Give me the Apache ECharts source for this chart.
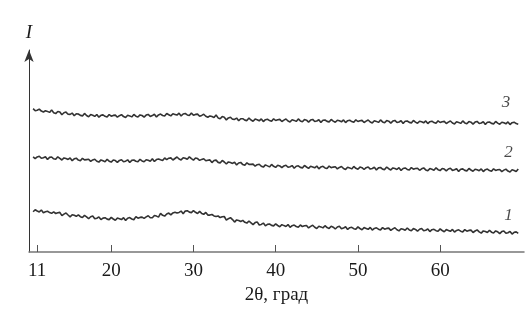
<!DOCTYPE html>
<html><head><meta charset="utf-8">
<script src="https://cdn.jsdelivr.net/npm/echarts@6/dist/echarts.min.js"></script>
<style>html,body{margin:0;padding:0;background:#fff}#c{width:527px;height:332px}</style>
</head><body><div id="c"></div>
<script>
// 2θ sampling grid of the diffractograms (start, step in degrees)
const thetaStart = 10.5, thetaStep = 0.25;
const xTicks = [11, 20, 30, 40, 50, 60];
const curveNames = ['1', '2', '3'];
const labelTheta = [68.3, 68.3, 68.0];
const labelIntensity = [36, 99, 149];

const curve3 = [143.4,141.3,
141.8,142.9,140.9,140.0, 141.2,140.6,139.6,142.1, 139.2,138.4,140.5,139.9, 137.2,139.2,139.9,137.8,
137.6,138.9,136.2,138.3, 138.0,136.6,136.1,138.6, 136.5,135.3,137.4,136.8, 135.6,137.5,134.8,136.7,
137.1,135.7,135.0,137.5, 135.8,136.6,136.9,134.8, 136.3,137.4,135.4,134.5, 136.7,136.1,135.1,137.6,
135.8,135.0,137.1,136.5, 134.9,136.9,137.6,135.5, 136.4,137.7,135.0,137.1, 137.9,136.5,136.0,138.5,
137.3,136.1,138.2,137.6, 136.9,138.8,136.1,138.0, 138.5,137.1,136.4,138.9, 136.8,137.6,137.9,135.8,
136.6,137.7,135.7,134.8, 136.1,135.5,134.5,137.0, 134.1,133.3,135.4,134.8, 132.1,134.1,134.8,132.7,
132.6,133.9,131.2,133.3, 133.3,131.9,131.4,133.9, 132.0,130.8,132.9,132.3, 131.2,133.1,130.4,132.3,
132.8,131.4,130.7,133.2, 131.5,132.3,132.6,130.5, 131.9,133.0,131.0,130.1, 132.2,131.6,130.6,133.1,
131.1,130.3,132.4,131.8, 129.9,131.9,132.6,130.5, 131.0,132.3,129.6,131.7, 132.0,130.6,130.1,132.6,
130.9,129.7,131.8,131.2, 130.2,132.1,129.4,131.3, 131.8,130.4,129.7,132.2, 130.5,131.3,131.6,129.5,
130.9,132.0,130.0,129.1, 131.2,130.6,129.6,132.1, 130.1,129.3,131.4,130.8, 128.9,130.9,131.6,129.5,
130.0,131.3,128.6,130.7, 131.0,129.6,129.1,131.6, 129.9,128.7,130.8,130.2, 129.2,131.1,128.4,130.3,
130.8,129.4,128.7,131.2, 129.5,130.3,130.6,128.5, 129.9,131.0,129.0,128.1, 130.2,129.6,128.6,131.1,
129.1,128.3,130.4,129.8, 127.9,129.9,130.6,128.5, 129.0,130.3,127.6,129.7, 130.0,128.6,128.1,130.6,
128.9,127.7,129.8,129.2, 128.2,130.1,127.4,129.3, 129.8,128.4,127.7];

const curve2 = [95.2,93.4,
95.1,95.8,93.7,94.3, 95.2,92.5,94.6,95.0, 93.2,92.7,95.2,93.6, 92.0,94.1,93.5,92.6,
94.0,91.3,93.2,93.8, 91.9,91.2,93.7,92.1, 92.4,92.7,90.6,92.1, 92.8,90.8,89.9,92.1,
91.2,90.2,92.7,90.8, 89.9,92.0,91.4,89.6, 91.6,92.3,90.2,90.8, 92.2,89.5,91.6,92.0,
90.7,90.2,92.7,91.1, 90.2,92.3,91.7,90.8, 93.2,90.5,92.4,93.0, 92.2,91.5,94.0,92.4,
93.8,94.1,92.0,93.5, 95.0,93.0,92.1,94.3, 93.7,92.7,95.2,93.3, 91.9,94.0,93.4,91.6,
92.6,93.3,91.2,91.8, 92.1,89.4,91.5,91.9, 89.6,89.1,91.6,90.0, 88.0,90.1,89.5,88.6,
89.8,87.1,89.0,89.6, 87.4,86.7,89.2,87.6, 87.6,87.9,85.8,87.3, 87.8,85.8,84.9,87.1,
86.1,85.1,87.6,85.7, 84.6,86.7,86.1,84.3, 86.1,86.8,84.7,85.3, 86.4,83.7,85.8,86.2,
84.6,84.1,86.6,85.0, 83.6,85.7,85.1,84.2, 85.9,83.2,85.1,85.7, 84.1,83.4,85.9,84.3,
84.9,85.2,83.1,84.6, 85.5,83.5,82.6,84.8, 84.1,83.1,85.6,83.7, 82.8,84.9,84.3,82.5,
84.3,85.0,82.9,83.5, 84.7,82.0,84.1,84.5, 82.9,82.4,84.9,83.3, 82.0,84.1,83.5,82.6,
84.3,81.6,83.5,84.1, 82.6,81.9,84.4,82.8, 83.5,83.8,81.7,83.2, 84.1,82.1,81.2,83.4,
82.7,81.7,84.2,82.3, 81.4,83.5,82.9,81.1, 83.0,83.7,81.6,82.2, 83.3,80.6,82.7,83.1,
81.6,81.1,83.6,82.0, 80.7,82.8,82.2,81.3, 83.1,80.4,82.3,82.9, 81.4,80.7,83.2,81.6,
82.2,82.5,80.4,81.9, 82.9,80.9,80.0,82.2, 81.5,80.5,83.0];

const curve1 = [40.2,42.3,
41.0,40.1,42.0,39.3, 40.2,40.8,39.4,38.7, 40.1,38.5,39.3,39.6, 36.4,37.9,39.0,37.0,
35.1,37.3,36.7,35.7, 37.2,35.3,34.5,36.6, 35.1,33.3,35.3,36.0, 33.2,33.8,35.1,32.4,
33.9,34.3,32.9,32.4, 34.6,33.0,31.8,33.9, 33.3,32.4,34.3,31.6, 33.8,34.4,33.0,32.3,
35.4,33.8,34.6,34.9, 33.6,35.1,36.2,34.2, 34.3,36.5,35.9,34.9, 38.6,36.7,35.9,38.0,
38.9,37.1,39.1,39.8, 39.0,39.6,40.9,38.2, 40.9,41.3,39.9,39.4, 41.3,39.7,38.5,40.6,
38.6,37.7,39.6,36.9, 36.9,37.5,36.1,35.4, 36.0,34.4,35.2,35.5, 31.8,33.3,34.4,32.4,
29.9,32.1,31.5,30.5, 31.6,29.7,28.9,31.0, 29.2,27.4,29.4,30.1, 27.0,27.6,28.9,26.2,
27.6,28.0,26.6,26.1, 28.1,26.5,25.3,27.4, 26.4,25.5,27.4,24.7, 26.3,26.9,25.5,24.8,
27.0,25.4,26.2,26.5, 24.1,25.6,26.7,24.7, 23.5,25.7,25.1,24.1, 26.3,24.4,23.6,25.7,
24.8,23.0,25.0,25.7, 23.3,23.9,25.2,22.5, 24.3,24.7,23.3,22.8, 25.1,23.5,22.3,24.4,
23.6,22.7,24.6,21.9, 23.6,24.2,22.8,22.1, 24.4,22.8,23.6,23.9, 21.6,23.1,24.2,22.2,
21.1,23.3,22.7,21.7, 24.0,22.1,21.3,23.4, 22.6,20.8,22.8,23.5, 21.2,21.8,23.1,20.4,
22.3,22.7,21.3,20.8, 23.1,21.5,20.3,22.4, 21.6,20.7,22.6,19.9, 21.6,22.2,20.8,20.1,
22.4,20.8,21.6,21.9, 19.5,21.0,22.1,20.1, 18.9,21.1,20.5,19.5, 21.7,19.8,19.0,21.1,
20.2,18.4,20.4,21.1, 18.7,19.3,20.6,17.9, 19.7,20.1,18.7];

function pairs(vals) {
  return vals.map((v, i) => [thetaStart + i * thetaStep, v]);
}

const chart = echarts.init(document.getElementById('c'), null, {renderer: 'canvas'});
const serif = 'Liberation Serif';
const curves = [curve1, curve2, curve3];

chart.setOption({
  backgroundColor: '#fff',
  animation: false,
  grid: {left: 29, right: 3, top: 50, bottom: 80},
  xAxis: {
    type: 'value', min: 10, max: 70.2,
    name: '2θ, град', nameLocation: 'middle', nameGap: 33,
    nameTextStyle: {fontFamily: serif, fontSize: 19, color: '#1a1a1a'},
    axisLine: {show: true, lineStyle: {color: '#777', width: 1.5}},
    axisTick: {show: true, inside: true, length: 7, customValues: xTicks, lineStyle: {color: '#555', width: 1}},
    axisLabel: {customValues: xTicks, fontFamily: serif, fontSize: 19, color: '#1a1a1a', margin: 10},
    splitLine: {show: false}
  },
  yAxis: {
    type: 'value', min: 0, max: 202,
    name: 'I', nameLocation: 'end', nameGap: 8,
    nameTextStyle: {fontFamily: serif, fontStyle: 'italic', fontSize: 19, color: '#1a1a1a', align: 'center'},
    axisLine: {show: true, symbol: ['none', 'arrow'], symbolSize: [7, 12], lineStyle: {color: '#333', width: 1}},
    axisTick: {show: false}, axisLabel: {show: false}, splitLine: {show: false}
  },
  series: curves.map((c, k) => ({
    type: 'line', name: curveNames[k], data: pairs(c), showSymbol: false,
    lineStyle: {color: '#333', width: 1.6}, silent: true
  })).concat([{
    type: 'scatter', symbolSize: 0, silent: true,
    data: curveNames.map((n, k) => ({value: [labelTheta[k], labelIntensity[k]], name: n})),
    label: {show: true, position: 'inside', formatter: p => p.name,
      fontFamily: serif, fontStyle: 'italic', fontSize: 17, color: '#1a1a1a'}
  }])
});
</script></body></html>
